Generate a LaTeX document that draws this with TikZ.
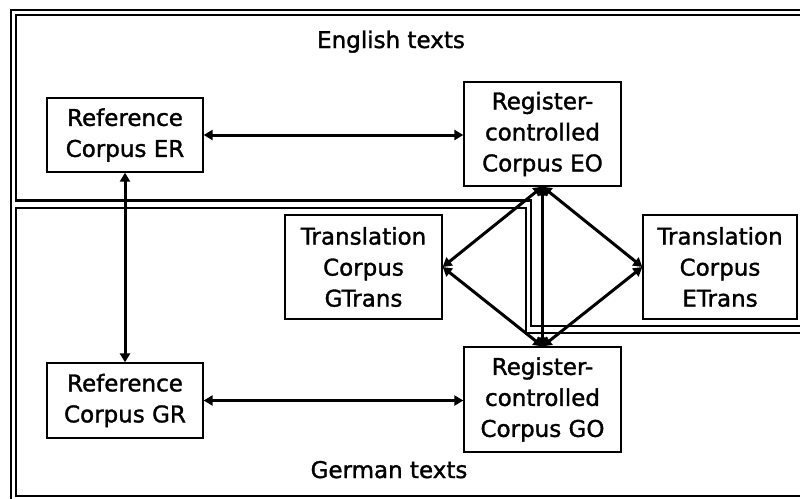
\documentclass[tikz,border=0pt]{standalone}
\usepackage{fontspec}
\setmainfont[FakeBold=1.4]{DejaVu Sans}
\usetikzlibrary{arrows.meta}
\begin{document}
\begin{tikzpicture}[x=1pt,y=-1pt,
  corpus/.style={draw=black,line width=1.3pt,fill=white,inner sep=0pt,
    align=center,font=\fontsize{23}{31}\selectfont},
  region/.style={draw=black,line width=2.3pt},
  link/.style={line width=3pt,{Triangle[length=9pt,width=10pt]}-{Triangle[length=9pt,width=10pt]}},
  caption/.style={anchor=base,font=\fontsize{23}{31}\selectfont}]
\useasboundingbox (0,0) rectangle (800,498);
\clip (0,0) rectangle (800,498);
\fill[white] (0,0) rectangle (800,498);

% outer frame
\draw[region] (11,10) rectangle (900,600);
% English texts region (wraps round the ETrans corpus)
\draw[region] (900,15) -- (16,15) -- (16,200.5) -- (531,200.5) -- (531,326) -- (900,326);
% German texts region
\draw[region] (900,333) -- (526,333) -- (526,208) -- (16,208) -- (16,496) -- (900,496);

\node[caption] (entitle) at (391,48) {English texts};
\node[caption] (detitle) at (389,478) {German texts};

% corpora
\node[corpus,minimum width=156pt,minimum height=74pt] (ER) at (125,135) {Reference\\Corpus ER};
\node[corpus,minimum width=157pt,minimum height=104pt] (EO) at (542.5,134) {Register-\\controlled\\Corpus EO};
\node[corpus,minimum width=157pt,minimum height=104pt] (GT) at (363.5,267) {Translation\\Corpus\\GTrans};
\node[corpus,minimum width=154pt,minimum height=104pt] (ET) at (720,267) {Translation\\Corpus\\ETrans};
\node[corpus,minimum width=156pt,minimum height=75pt] (GR) at (125,400.5) {Reference\\Corpus GR};
\node[corpus,minimum width=157pt,minimum height=105pt] (GO) at (542.5,399.5) {Register-\\controlled\\Corpus GO};

% relations
\draw[link] (ER.east) -- (ER.east -| EO.west);
\draw[link] (ER.south) -- (GR.north);
\draw[link] (GR.east) -- (GR.east -| GO.west);
\draw[link] (EO.south) -- (GO.north);
\draw[link] (EO.south) -- (GT.east);
\draw[link] (EO.south) -- (ET.west);
\draw[link] (GO.north) -- (GT.east);
\draw[link] (GO.north) -- (ET.west);
\end{tikzpicture}
\end{document}
